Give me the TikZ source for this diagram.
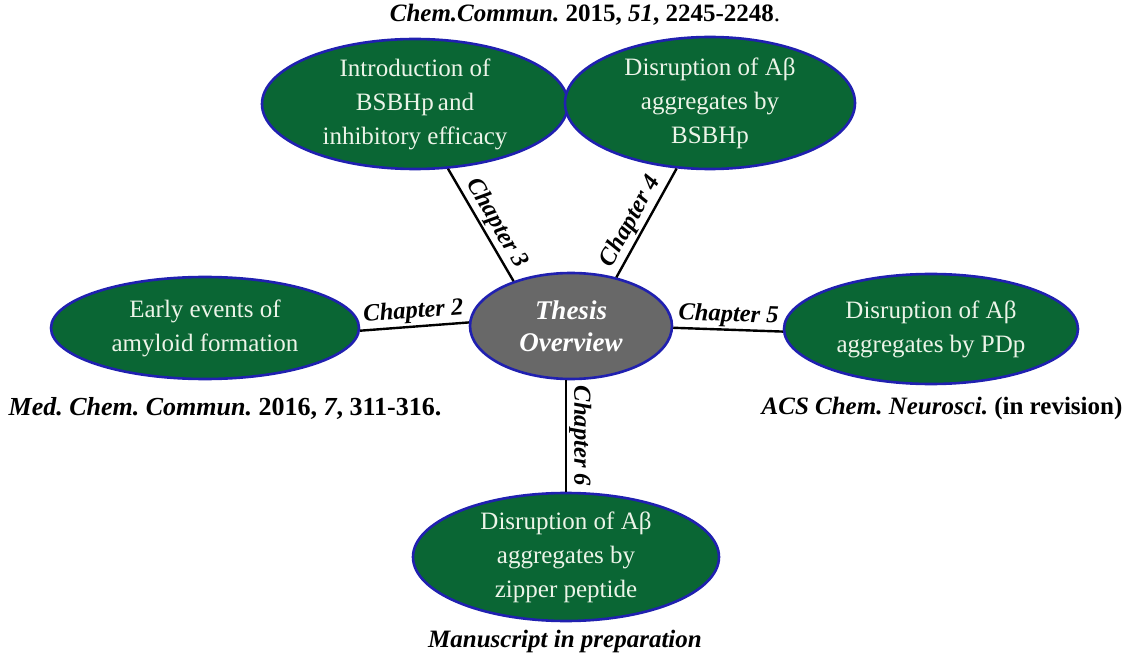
\documentclass[tikz,border=0pt]{standalone}
\usepackage{fontspec}
\setmainfont{Liberation Serif}
\usetikzlibrary{shapes.geometric}
\definecolor{leaf}{RGB}{10,102,52}
\definecolor{rim}{RGB}{32,32,176}
\definecolor{hub}{RGB}{104,104,104}
\definecolor{pale}{RGB}{236,244,232}
\frenchspacing
\begin{document}
\begin{tikzpicture}[x=1pt,y=-1pt,
  blob/.style={ellipse, draw=rim, line width=2.6pt, fill=leaf, inner sep=0pt},
  blobtext/.style={text=pale, align=center, inner sep=0pt, font=\fontsize{25}{34}\selectfont},
  hubtext/.style={text=white, align=center, inner sep=0pt, font=\fontsize{27}{32}\selectfont\bfseries\itshape},
  link/.style={line width=2.4pt, black},
  chap/.style={font=\fontsize{24.5}{27}\selectfont\bfseries\itshape, inner sep=2pt},
  cite/.style={font=\fontsize{25}{28}\selectfont\bfseries, inner sep=0pt}
]
% canvas
\fill[white] (0,0) rectangle (1128,655);
\useasboundingbox (0,0) rectangle (1128,655);

% central topic
\node[blob, fill=hub, minimum width=202pt, minimum height=106pt] (thesis) at (571,326) {};
\node[hubtext] (thesis-t) at (thesis) {Thesis\\Overview};

% chapter topics
\node[blob, minimum width=306pt, minimum height=130pt] (intro) at (415,104) {};
\node[blobtext] (intro-t) at (intro) {Introduction of\\BSBHp\,and\\inhibitory efficacy};

\node[blob, minimum width=290pt, minimum height=132pt] (bsbhp) at (710,103) {};
\node[blobtext] (bsbhp-t) at (bsbhp) {Disruption of Aβ\\aggregates by\\BSBHp};

\node[blob, minimum width=308pt, minimum height=102pt] (early) at (205,328) {};
\node[blobtext] (early-t) at (early) {Early events of\\amyloid formation};

\node[blob, minimum width=294pt, minimum height=110pt] (pdp) at (931,329) {};
\node[blobtext] (pdp-t) at (pdp) {Disruption of Aβ\\aggregates by PDp};

\node[blob, minimum width=306pt, minimum height=128pt] (zipper) at (566,557) {};
\node[blobtext] (zipper-t) at (zipper) {Disruption of Aβ\\aggregates by\\zipper peptide};

% connectors with chapter labels
\draw[link] (early.-1) -- node[chap, sloped, above] {Chapter 2} (thesis.178);
\draw[link] (intro.-63) -- node[chap, sloped, above, pos=0.55] {Chapter 3} (thesis.142);
\draw[link] (thesis.47) -- node[chap, sloped, above, pos=0.45] {Chapter 4} (bsbhp.-117);
\draw[link] (thesis.-1) -- node[chap, sloped, above] {Chapter 5} (pdp.-179);
\draw[link] (thesis.south -| zipper.north) -- node[chap, sloped, above] {Chapter 6} (zipper.north);

% publication notes
\node[cite] (ref-top) at (585,15) {\textit{Chem.Commun.} 2015, \textit{51}, 2245-2248\textmd{.}};
\node[cite, font=\fontsize{26}{28}\selectfont\bfseries] (ref-left) at (225,408) {\textit{Med. Chem. Commun.} 2016, \textit{7}, 311-316.};
\node[cite] (ref-right) at (942,408) {\textit{ACS Chem. Neurosci.} (in revision)};
\node[cite] (ref-bottom) at (565,641) {\textit{Manuscript in preparation}};
\end{tikzpicture}
\end{document}
